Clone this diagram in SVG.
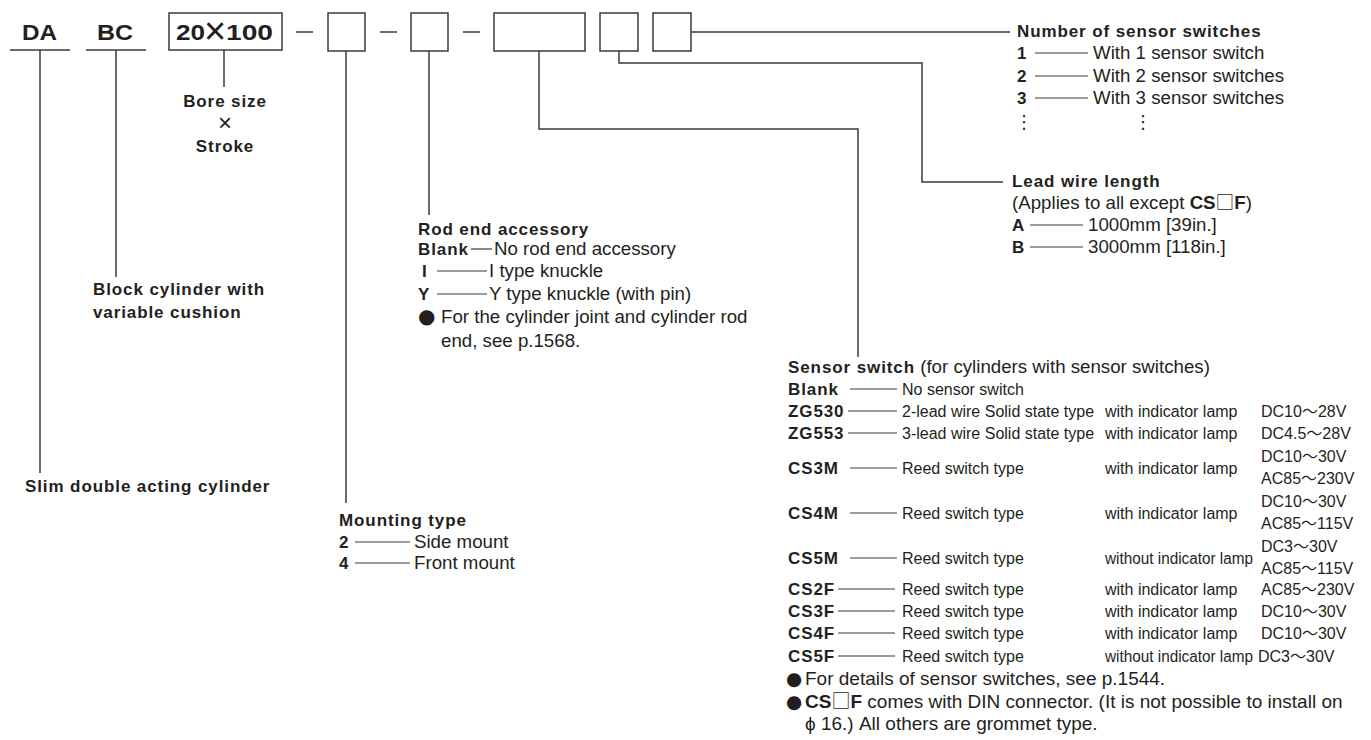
<svg xmlns="http://www.w3.org/2000/svg" width="1371" height="740" viewBox="0 0 1371 740">
<style>
text{font-family:"Liberation Sans",Arial,"DejaVu Sans","Noto Sans CJK JP",sans-serif;fill:#231f20}
.h{font-size:22px;font-weight:bold}
.b{font-size:17px;font-weight:bold;letter-spacing:0.9px}
.r{font-size:18.7px}
.f{font-size:19px}
.s{font-size:16px}
.sq{font-family:"Noto Sans CJK JP",sans-serif;font-weight:normal;letter-spacing:0}
.sym{font-family:"DejaVu Sans",sans-serif}
.box{fill:none;stroke:#3a3a3a;stroke-width:1.5}
.ln{fill:none;stroke:#3a3a3a;stroke-width:1.5}
.ld{stroke:#3a3a3a;stroke-width:1.2}
.m{text-anchor:middle}
</style>
<rect width="1371" height="740" fill="#ffffff"/>

<g id="code">
  <g id="n-da"><text class="h" x="22" y="40" textLength="35" lengthAdjust="spacingAndGlyphs">DA</text><line class="ln" x1="10" y1="50" x2="70" y2="50"/></g>
  <g id="n-bc"><text class="h" x="97" y="40" textLength="36" lengthAdjust="spacingAndGlyphs">BC</text><line class="ln" x1="86" y1="50" x2="146" y2="50"/></g>
  <g id="n-bore"><rect class="box" x="169" y="13" width="113" height="37"/>
    <text class="h" x="176" y="40" textLength="29" lengthAdjust="spacingAndGlyphs">20</text>
    <text class="m" x="215" y="44" font-size="38">×</text>
    <text class="h" x="226" y="40" textLength="47" lengthAdjust="spacingAndGlyphs">100</text></g>
  <g id="dashes"><line class="ln" x1="296" y1="32" x2="313" y2="32"/><line class="ln" x1="380" y1="32" x2="397" y2="32"/><line class="ln" x1="463" y1="32" x2="480" y2="32"/></g>
  <g id="n-mount"><rect class="box" x="328" y="13" width="37" height="38"/></g>
  <g id="n-rod"><rect class="box" x="411" y="13" width="37" height="38"/></g>
  <g id="n-sensor"><rect class="box" x="494" y="13" width="91" height="38"/></g>
  <g id="n-lead"><rect class="box" x="600" y="13" width="38" height="38"/></g>
  <g id="n-num"><rect class="box" x="653" y="13" width="38" height="38"/></g>
</g>

<g id="connectors">
  <polyline class="ln" points="40,50 40,473"/>
  <polyline class="ln" points="116,50 116,277"/>
  <polyline class="ln" points="224,50 224,87"/>
  <polyline class="ln" points="346,51 346,503"/>
  <polyline class="ln" points="429,51 429,215"/>
  <polyline class="ln" points="539,51 539,129 858,129 858,357"/>
  <polyline class="ln" points="619,51 619,63 922,63 922,182 1003,182"/>
  <polyline class="ln" points="691,32 1010,32"/>
</g>

<g id="lbl-slim"><text class="b" x="25" y="492">Slim double acting cylinder</text></g>
<g id="lbl-block"><text class="b" x="93" y="295">Block cylinder with</text><text class="b" x="93" y="318">variable cushion</text></g>
<g id="lbl-bore">
  <text class="b m" x="225" y="107">Bore size</text>
  <text class="m" x="225" y="131" font-size="24">×</text>
  <text class="b m" x="225" y="152">Stroke</text>
</g>

<g id="lbl-mount">
  <text class="b" x="339" y="526">Mounting type</text>
  <text class="b" x="339" y="548">2</text><line class="ld" x1="355" y1="542" x2="410" y2="542"/><text class="r" x="414" y="548">Side mount</text>
  <text class="b" x="339" y="569">4</text><line class="ld" x1="355" y1="563" x2="410" y2="563"/><text class="r" x="414" y="569">Front mount</text>
</g>

<g id="lbl-rod">
  <text class="b" x="418" y="235">Rod end accessory</text>
  <text class="b" x="418" y="255">Blank</text><line class="ld" x1="471" y1="249" x2="492" y2="249"/><text class="r" x="494" y="255">No rod end accessory</text>
  <text class="b" x="422" y="277">I</text><line class="ld" x1="437" y1="271" x2="487" y2="271"/><text class="r" x="489" y="277">I type knuckle</text>
  <text class="b" x="418" y="300">Y</text><line class="ld" x1="437" y1="294" x2="487" y2="294"/><text class="r" x="489" y="300">Y type knuckle (with pin)</text>
  <text class="sym" x="418" y="323" font-size="20">●</text><text class="r" x="441" y="323">For the cylinder joint and cylinder rod</text>
  <text class="r" x="441" y="347">end, see p.1568.</text>
</g>

<g id="lbl-num">
  <text class="b" x="1017" y="37">Number of sensor switches</text>
  <text class="b" x="1017" y="59">1</text><line class="ld" x1="1035" y1="53" x2="1088" y2="53"/><text class="r" x="1093" y="59">With 1 sensor switch</text>
  <text class="b" x="1017" y="82">2</text><line class="ld" x1="1035" y1="76" x2="1088" y2="76"/><text class="r" x="1093" y="82">With 2 sensor switches</text>
  <text class="b" x="1017" y="104">3</text><line class="ld" x1="1035" y1="98" x2="1088" y2="98"/><text class="r" x="1093" y="104">With 3 sensor switches</text>
  <text class="sym" x="1015" y="128" font-size="18">⋮</text><text class="sym" x="1134" y="128" font-size="18">⋮</text>
</g>

<g id="lbl-lead">
  <text class="b" x="1012" y="187">Lead wire length</text>
  <text class="r" x="1012" y="209">(Applies to all except <tspan font-weight="bold">CS</tspan><tspan class="sq">□</tspan><tspan font-weight="bold">F</tspan>)</text>
  <text class="b" x="1012" y="231">A</text><line class="ld" x1="1030" y1="225" x2="1083" y2="225"/><text class="r" x="1088" y="231">1000mm [39in.]</text>
  <text class="b" x="1012" y="253">B</text><line class="ld" x1="1030" y1="247" x2="1083" y2="247"/><text class="r" x="1088" y="253">3000mm [118in.]</text>
</g>

<g id="lbl-sensor">
  <text x="788" y="373"><tspan class="b">Sensor switch</tspan><tspan class="r"> (for cylinders with sensor switches)</tspan></text>
  <text class="b" x="788" y="395">Blank</text><line class="ld" x1="850" y1="389" x2="897" y2="389"/><text class="s" x="902" y="395">No sensor switch</text>

  <text class="b" x="788" y="417">ZG530</text><line class="ld" x1="848" y1="411" x2="897" y2="411"/><text class="s" x="902" y="417">2-lead wire Solid state type</text><text class="s" x="1105" y="417">with indicator lamp</text><text class="s" x="1261" y="417">DC10～28V</text>

  <text class="b" x="788" y="439">ZG553</text><line class="ld" x1="848" y1="433" x2="897" y2="433"/><text class="s" x="902" y="439">3-lead wire Solid state type</text><text class="s" x="1105" y="439">with indicator lamp</text><text class="s" x="1261" y="439">DC4.5～28V</text>

  <text class="b" x="788" y="474">CS3M</text><line class="ld" x1="850" y1="468" x2="897" y2="468"/><text class="s" x="902" y="474">Reed switch type</text><text class="s" x="1105" y="474">with indicator lamp</text><text class="s" x="1261" y="462">DC10～30V</text><text class="s" x="1261" y="484">AC85～230V</text>

  <text class="b" x="788" y="519">CS4M</text><line class="ld" x1="850" y1="513" x2="897" y2="513"/><text class="s" x="902" y="519">Reed switch type</text><text class="s" x="1105" y="519">with indicator lamp</text><text class="s" x="1261" y="507">DC10～30V</text><text class="s" x="1261" y="529">AC85～115V</text>

  <text class="b" x="788" y="564">CS5M</text><line class="ld" x1="850" y1="558" x2="897" y2="558"/><text class="s" x="902" y="564">Reed switch type</text><text class="s" x="1105" y="564" textLength="148" lengthAdjust="spacingAndGlyphs">without indicator lamp</text><text class="s" x="1261" y="552">DC3～30V</text><text class="s" x="1261" y="574">AC85～115V</text>

  <text class="b" x="788" y="595">CS2F</text><line class="ld" x1="838" y1="589" x2="895" y2="589"/><text class="s" x="902" y="595">Reed switch type</text><text class="s" x="1105" y="595">with indicator lamp</text><text class="s" x="1261" y="595">AC85～230V</text>
  <text class="b" x="788" y="617">CS3F</text><line class="ld" x1="838" y1="611" x2="895" y2="611"/><text class="s" x="902" y="617">Reed switch type</text><text class="s" x="1105" y="617">with indicator lamp</text><text class="s" x="1261" y="617">DC10～30V</text>
  <text class="b" x="788" y="639">CS4F</text><line class="ld" x1="838" y1="633" x2="895" y2="633"/><text class="s" x="902" y="639">Reed switch type</text><text class="s" x="1105" y="639">with indicator lamp</text><text class="s" x="1261" y="639">DC10～30V</text>
  <text class="b" x="788" y="662">CS5F</text><line class="ld" x1="838" y1="656" x2="895" y2="656"/><text class="s" x="902" y="662">Reed switch type</text><text class="s" x="1105" y="662" textLength="148" lengthAdjust="spacingAndGlyphs">without indicator lamp</text><text class="s" x="1258" y="662">DC3～30V</text>

  <text class="sym" x="786" y="685" font-size="18.5">●</text><text class="f" x="805" y="685">For details of sensor switches, see p.1544.</text>
  <text class="sym" x="786" y="708" font-size="18.5">●</text><text class="f" x="805" y="708"><tspan font-weight="bold">CS</tspan><tspan class="sq">□</tspan><tspan font-weight="bold">F</tspan> comes with DIN connector. (It is not possible to install on</text>
  <text class="f" x="805" y="730">ϕ 16.) All others are grommet type.</text>
</g>
</svg>
